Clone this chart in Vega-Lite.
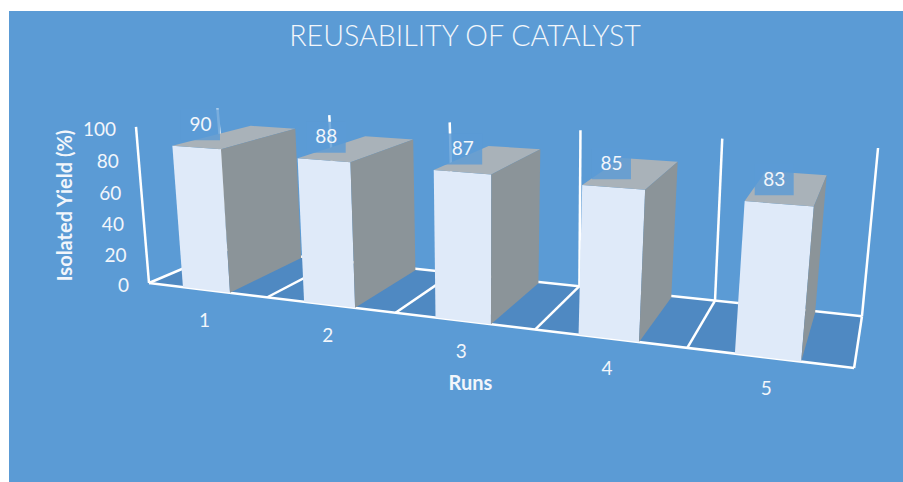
{
"$schema":"https://vega.github.io/schema/vega-lite/v6.json",
"width":903,"height":482,
"autosize":{"type":"fit","contains":"padding"},
"padding":{"left":9,"top":11,"right":0,"bottom":0},
"background":"#ffffff",
"view":{"fill":"#5B9BD5","stroke":null},
"config":{"font":"Lato"},
"title":{"text":"REUSABILITY OF CATALYST","font":"Lato","fontSize":28.6,"fontWeight":300,"color":"#F2F6FB","anchor":"middle","dx":9,"dy":41,"offset":0},
"datasets":{
"bars":[{"run":1,"yield":90},{"run":2,"yield":88},{"run":3,"yield":87},{"run":4,"yield":85},{"run":5,"yield":83}],
"floor":[{"p":0,"u":0,"v":0,"h":0},{"p":1,"u":5,"v":0,"h":0},{"p":2,"u":5,"v":1,"h":0},{"p":3,"u":0,"v":1,"h":0}],
"ticks":[{"tick":0},{"tick":20},{"tick":40},{"tick":60},{"tick":80},{"tick":100}],
"frame":[
{"line":"front","p":0,"u":0,"v":0,"h":0},{"line":"front","p":1,"u":5,"v":0,"h":0},
{"line":"back","p":0,"u":0,"v":1,"h":0},{"line":"back","p":1,"u":5,"v":1,"h":0},
{"line":"axis","p":0,"u":0,"v":0,"h":0},{"line":"axis","p":1,"u":0,"v":0,"h":100},
{"line":"d0","p":0,"u":0,"v":0,"h":0},{"line":"d0","p":1,"u":0,"v":1,"h":0},
{"line":"d1","p":0,"u":1,"v":0,"h":0},{"line":"d1","p":1,"u":1,"v":1,"h":0},
{"line":"d2","p":0,"u":2,"v":0,"h":0},{"line":"d2","p":1,"u":2,"v":1,"h":0},
{"line":"d3","p":0,"u":3,"v":0,"h":0},{"line":"d3","p":1,"u":3,"v":1,"h":0},
{"line":"d4","p":0,"u":4,"v":0,"h":0},{"line":"d4","p":1,"u":4,"v":1,"h":0},
{"line":"d5","p":0,"u":5,"v":0,"h":0},{"line":"d5","p":1,"u":5,"v":1,"h":0},
{"line":"w0","p":0,"u":0,"v":1,"h":0},{"line":"w0","p":1,"u":-0.025,"v":1,"h":100},
{"line":"w1","p":0,"u":1,"v":1,"h":0},{"line":"w1","p":1,"u":0.975,"v":1,"h":100},
{"line":"w2","p":0,"u":2,"v":1,"h":0},{"line":"w2","p":1,"u":1.975,"v":1,"h":100},
{"line":"w3","p":0,"u":3,"v":1,"h":0},{"line":"w3","p":1,"u":2.98,"v":1,"h":100},
{"line":"w4","p":0,"u":4,"v":1,"h":0},{"line":"w4","p":1,"u":3.985,"v":1,"h":100},
{"line":"w5","p":0,"u":5,"v":1,"h":0},{"line":"w5","p":1,"u":5,"v":1,"h":100}
]},
"encoding":{
"x":{"field":"px","type":"quantitative","scale":{"domain":[9,903],"nice":false,"zero":false},"axis":{"title":"Runs","labels":false,"ticks":false,"domain":false,"grid":false,"titleFont":"Lato","titleFontSize":20,"titleFontWeight":"bold","titleColor":"#F2F6FB","titleX":461,"titleY":-99,"titleAlign":"center","titleBaseline":"middle","titlePadding":0}},
"y":{"field":"py","type":"quantitative","scale":{"domain":[482,11],"nice":false,"zero":false},"axis":{"title":"Isolated Yield (%)","labels":false,"ticks":false,"domain":false,"grid":false,"titleFont":"Lato","titleFontSize":20,"titleFontWeight":"bold","titleColor":"#F2F6FB","titleX":56,"titleY":194,"titleAngle":-90,"titleAlign":"center","titleBaseline":"middle","titlePadding":0}}
},
"layer":[
{"data":{"name":"floor"},
"transform":[
{"calculate":"1-0.03866*datum.u+0.1163*datum.v-0.000375*datum.h","as":"w"},
{"calculate":"(149+108*datum.u+106.6*datum.v-0.181*datum.h)/datum.w","as":"px"},
{"calculate":"(283+2.77*datum.u-5*datum.v-1.608*datum.h)/datum.w","as":"py"}],
"mark":{"type":"line","interpolate":"linear-closed","fill":"#4F89C2","stroke":null},
"encoding":{"order":{"field":"p"}}},
{"data":{"name":"frame"},
"transform":[
{"calculate":"1-0.03866*datum.u+0.1163*datum.v-0.000375*datum.h","as":"w"},
{"calculate":"(149+108*datum.u+106.6*datum.v-0.181*datum.h)/datum.w","as":"px"},
{"calculate":"(283+2.77*datum.u-5*datum.v-1.608*datum.h)/datum.w","as":"py"}],
"mark":{"type":"line","stroke":"#FFFFFF","strokeWidth":2.5},
"encoding":{"detail":{"field":"line"},"order":{"field":"p"}}},
{"data":{"name":"bars"},
"transform":[
{"calculate":"[0,1,2]","as":"f"},{"flatten":["f"]},
{"calculate":"[0,1,2,3]","as":"c"},{"flatten":["c"]},
{"calculate":"['front','top','side'][datum.f]","as":"face"},
{"calculate":"datum.run+'-'+datum.face","as":"id"},
{"calculate":"datum.run-1+[[0.295,0.693,0.693,0.295],[0.295,0.693,0.693,0.295],[0.693,0.693,0.693,0.693]][datum.f][datum.c]","as":"u"},
{"calculate":"0.967*[[0,0,0,0],[0,0,1,1],[0,1,1,0]][datum.f][datum.c]","as":"v"},
{"calculate":"datum.yield*[[1,1,0,0],[1,1,1,1],[1,1,0,0]][datum.f][datum.c]","as":"h"},
{"calculate":"1-0.03866*datum.u+0.1163*datum.v-0.000375*datum.h","as":"w"},
{"calculate":"(149+108*datum.u+106.6*datum.v-0.181*datum.h)/datum.w","as":"px"},
{"calculate":"(283+2.77*datum.u-5*datum.v-1.608*datum.h)/datum.w","as":"py"}],
"mark":{"type":"line","interpolate":"linear-closed","stroke":null},
"encoding":{"detail":{"field":"id"},"order":{"field":"c"},
"fill":{"field":"face","type":"nominal","legend":null,"scale":{"domain":["front","top","side"],"range":["#DFEAF9","#A9B2B9","#8B9499"]}}}},
{"data":{"name":"bars"},
"transform":[
{"calculate":"datum.run-1+0.455","as":"u"},{"calculate":"0.1","as":"v"},{"calculate":"datum.yield","as":"h"},
{"calculate":"1-0.03866*datum.u+0.1163*datum.v-0.000375*datum.h","as":"w"},
{"calculate":"(149+108*datum.u+106.6*datum.v-0.181*datum.h)/datum.w","as":"px"},
{"calculate":"(283+2.77*datum.u-5*datum.v-1.608*datum.h)/datum.w-20","as":"py"}],
"mark":{"type":"rect","fill":"#5B9BD5","opacity":0.82,"width":39,"height":31}},
{"data":{"name":"bars"},
"transform":[
{"calculate":"datum.run-1+0.455","as":"u"},{"calculate":"0.1","as":"v"},{"calculate":"datum.yield","as":"h"},
{"calculate":"1-0.03866*datum.u+0.1163*datum.v-0.000375*datum.h","as":"w"},
{"calculate":"(149+108*datum.u+106.6*datum.v-0.181*datum.h)/datum.w","as":"px"},
{"calculate":"(283+2.77*datum.u-5*datum.v-1.608*datum.h)/datum.w-20","as":"py"}],
"mark":{"type":"text","font":"Lato","fontSize":19,"color":"#F2F6FB","align":"center","baseline":"middle"},
"encoding":{"text":{"field":"yield","type":"quantitative"}}},
{"data":{"name":"bars"},
"transform":[
{"calculate":"datum.run-0.5","as":"u"},{"calculate":"0","as":"v"},{"calculate":"0","as":"h"},
{"calculate":"1-0.03866*datum.u+0.1163*datum.v-0.000375*datum.h","as":"w"},
{"calculate":"(149+108*datum.u+106.6*datum.v-0.181*datum.h)/datum.w","as":"px"},
{"calculate":"(283+2.77*datum.u-5*datum.v-1.608*datum.h)/datum.w","as":"py"}],
"mark":{"type":"text","font":"Lato","fontSize":19,"color":"#F2F6FB","align":"center","baseline":"middle","dx":-2.5,"dy":31},
"encoding":{"text":{"field":"run","type":"ordinal"}}},
{"data":{"name":"ticks"},
"transform":[
{"calculate":"0","as":"u"},{"calculate":"0","as":"v"},{"calculate":"datum.tick","as":"h"},
{"calculate":"1-0.03866*datum.u+0.1163*datum.v-0.000375*datum.h","as":"w"},
{"calculate":"(149+108*datum.u+106.6*datum.v-0.181*datum.h)/datum.w","as":"px"},
{"calculate":"(283+2.77*datum.u-5*datum.v-1.608*datum.h)/datum.w","as":"py"}],
"mark":{"type":"text","font":"Lato","fontSize":19,"color":"#F2F6FB","align":"right","baseline":"middle","dx":-20,"dy":3},
"encoding":{"text":{"field":"tick","type":"quantitative"}}}
]
}
